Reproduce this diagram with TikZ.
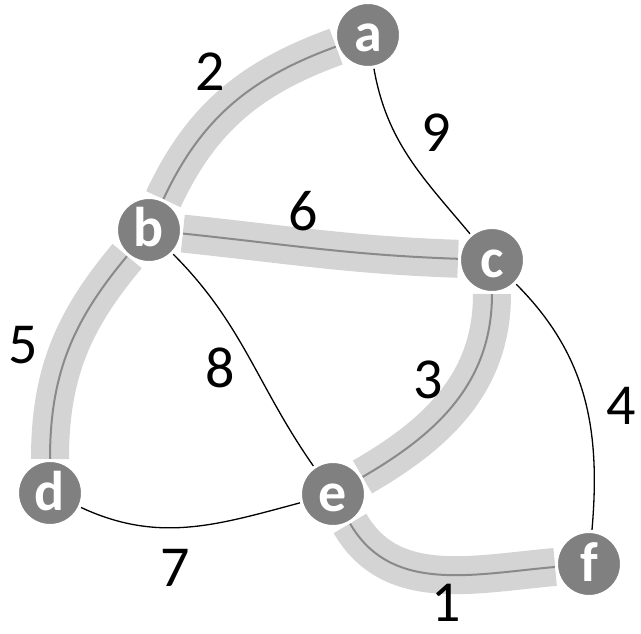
\documentclass[tikz,border=0pt]{standalone}
\usepackage{fontspec}
\setmainfont{Carlito}
\usetikzlibrary{backgrounds}
\definecolor{vfill}{HTML}{808080}
\definecolor{band}{HTML}{D4D4D4}
\definecolor{core}{HTML}{8A8A8A}
\begin{document}
\begin{tikzpicture}[x=1pt,y=-1pt,
  vertex/.style={circle,fill=vfill,draw=white,line width=3pt,minimum size=65pt,
    inner sep=0pt,text=white,font=\fontsize{56}{56}\selectfont\bfseries,
    text height=34pt,text depth=0pt},
  wlabel/.style={font=\fontsize{58}{58}\selectfont,inner sep=0pt},
  treeband/.style={band,line width=38pt,line cap=butt},
  treecore/.style={core,line width=2pt},
  plain/.style={black,line width=1.3pt}]
\useasboundingbox (0,0) rectangle (641,634);

% vertices
\node[vertex] (a) at (368,35) {a};
\node[vertex] (b) at (149,230) {b};
\node[vertex] (c) at (492,260) {c};
\node[vertex] (d) at (50,493) {d};
\node[vertex] (e) at (333,494) {e};
\node[vertex] (f) at (589,564) {f};

% edge weights
\node[wlabel] (w2) at (210,72) {2};
\node[wlabel] (w9) at (436,133) {9};
\node[wlabel] (w6) at (303,211) {6};
\node[wlabel] (w5) at (23,345) {5};
\node[wlabel] (w8) at (220,368) {8};
\node[wlabel] (w3) at (428,380) {3};
\node[wlabel] (w4) at (621,406) {4};
\node[wlabel] (w7) at (175,568) {7};
\node[wlabel] (w1) at (446,603) {1};

\begin{pgfonlayer}{background}
  % spanning tree edges: wide band with a thin core line
  \foreach \s/\t/\o/\i in {a/b/200/65, b/c/-6/178, b/d/230/90, c/e/-90/30, e/f/-60/185}{
    \draw[treeband] (\s) to[out=\o,in=\i] (\t);
    \draw[treecore] (\s) to[out=\o,in=\i] (\t);
  }
  % remaining edges
  \draw[plain] (a) to[out=-80,in=130] (c);
  \draw[plain] (b) to[out=-45,in=125] (e);
  \draw[plain] (c) to[out=-45,in=85] (f);
  \draw[plain] (d) to[out=-25,in=195] (e);
\end{pgfonlayer}
\end{tikzpicture}
\end{document}
